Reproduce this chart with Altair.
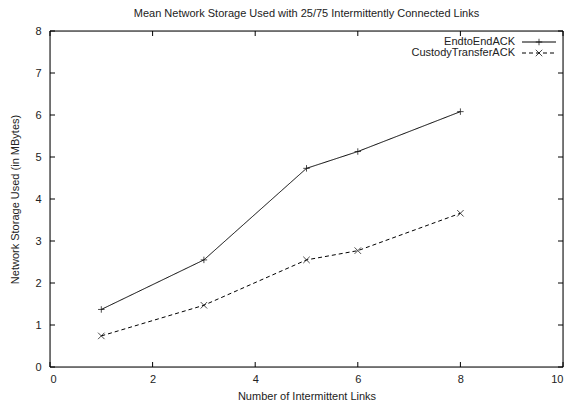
import altair as alt
import pandas as pd

links = [1, 3, 5, 6, 8]
end_to_end = [1.37, 2.55, 4.73, 5.13, 6.08]
custody = [0.74, 1.47, 2.55, 2.77, 3.66]
series_names = ["EndtoEndACK", "CustodyTransferACK"]
x_ticks = [0, 2, 4, 6, 8, 10]
y_ticks = [0, 1, 2, 3, 4, 5, 6, 7, 8]

df = pd.DataFrame({
    "links": links * 2,
    "value": end_to_end + custody,
    "series": [series_names[0]] * len(links) + [series_names[1]] * len(links),
})
legend_df = pd.DataFrame({"series": series_names})
xt = pd.DataFrame({"links": x_ticks})
yt = pd.DataFrame({"value": y_ticks})

W, H = 513, 336
FONT = "Liberation Sans"
PLUS = "M-1,0L1,0M0,-1L0,1"
CROSS = "M-1,-1L1,1M-1,1L1,-1"

xs = alt.Scale(domain=[0, 10], nice=False, zero=False)
ys = alt.Scale(domain=[0, 8], nice=False, zero=False)
x_axis = alt.Axis(values=x_ticks, title="Number of Intermittent Links",
                  tickSize=0, domain=False, grid=False, labelPadding=6,
                  titlePadding=6, format="d", titleFontWeight="normal",
                  labelFont=FONT, titleFont=FONT, labelFontSize=11, titleFontSize=11,
                  labelColor="#222", titleColor="#222")
y_axis = alt.Axis(values=y_ticks, title="Network Storage Used (in MBytes)",
                  tickSize=0, domain=False, grid=False, labelPadding=9,
                  titlePadding=14, format="d", titleFontWeight="normal",
                  labelFont=FONT, titleFont=FONT, labelFontSize=11, titleFontSize=11,
                  labelColor="#222", titleColor="#222")
dash_scale = alt.Scale(domain=series_names, range=[[1, 0], [4, 3]])
shape_scale = alt.Scale(domain=series_names, range=[PLUS, CROSS])

base = alt.Chart(df)
lines = base.mark_line(color="black", strokeWidth=1).encode(
    x=alt.X("links:Q", scale=xs, axis=x_axis),
    y=alt.Y("value:Q", scale=ys, axis=y_axis),
    strokeDash=alt.StrokeDash("series:N", scale=dash_scale, legend=None),
)
points = base.mark_point(color="black", strokeWidth=1, size=42, filled=False).encode(
    x=alt.X("links:Q", scale=xs, axis=x_axis),
    y=alt.Y("value:Q", scale=ys, axis=y_axis),
    shape=alt.Shape("series:N", scale=shape_scale, legend=None),
)

tick_len = 5
bx = alt.Chart(xt).mark_rule(color="black", strokeWidth=1).encode(
    x=alt.X("links:Q", scale=xs, axis=x_axis), y=alt.value(H), y2=alt.value(H - tick_len))
tx = alt.Chart(xt).mark_rule(color="black", strokeWidth=1).encode(
    x=alt.X("links:Q", scale=xs, axis=x_axis), y=alt.value(0), y2=alt.value(tick_len))
ly = alt.Chart(yt).mark_rule(color="black", strokeWidth=1).encode(
    y=alt.Y("value:Q", scale=ys, axis=y_axis), x=alt.value(0), x2=alt.value(tick_len))
ry = alt.Chart(yt).mark_rule(color="black", strokeWidth=1).encode(
    y=alt.Y("value:Q", scale=ys, axis=y_axis), x=alt.value(W), x2=alt.value(W - tick_len))

border_src = alt.Chart(legend_df.head(1))
border = [
    border_src.mark_rule(color="black", strokeWidth=1).encode(
        x=alt.value(0), x2=alt.value(W), y=alt.value(0)),
    border_src.mark_rule(color="black", strokeWidth=1).encode(
        x=alt.value(0), x2=alt.value(W), y=alt.value(H)),
    border_src.mark_rule(color="black", strokeWidth=1).encode(
        y=alt.value(0), y2=alt.value(H), x=alt.value(0)),
    border_src.mark_rule(color="black", strokeWidth=1).encode(
        y=alt.value(0), y2=alt.value(H), x=alt.value(W)),
]

legend_layers = []
for i, name in enumerate(series_names):
    ld = alt.Chart(legend_df).transform_filter(alt.datum.series == name)
    yy = 11 + 11 * i
    legend_layers.append(ld.mark_text(align="right", baseline="middle", font=FONT,
                                      fontSize=11, color="#222").encode(
        text="series:N", x=alt.value(465), y=alt.value(yy)))
    legend_layers.append(ld.mark_rule(color="black", strokeWidth=1,
                                      strokeDash=[1, 0] if i == 0 else [4, 3]).encode(
        x=alt.value(472), x2=alt.value(506), y=alt.value(yy)))
    legend_layers.append(ld.mark_point(color="black", strokeWidth=1, size=42, filled=False,
                                       shape=PLUS if i == 0 else CROSS).encode(
        x=alt.value(489), y=alt.value(yy)))

chart = alt.layer(lines, points, bx, tx, ly, ry, *border, *legend_layers).properties(
    width=W, height=H,
    title=alt.TitleParams("Mean Network Storage Used with 25/75 Intermittently Connected Links",
                          font=FONT, fontSize=11, fontWeight="normal", color="#222",
                          anchor="middle", offset=6),
    autosize=alt.AutoSizeParams(type="none"),
    padding={"left": 50, "top": 31, "right": 6, "bottom": 38},
).configure_view(stroke="black", strokeWidth=1).configure(background="white")

chart.save("out.html", embed_options={"renderer": "svg", "actions": False})
